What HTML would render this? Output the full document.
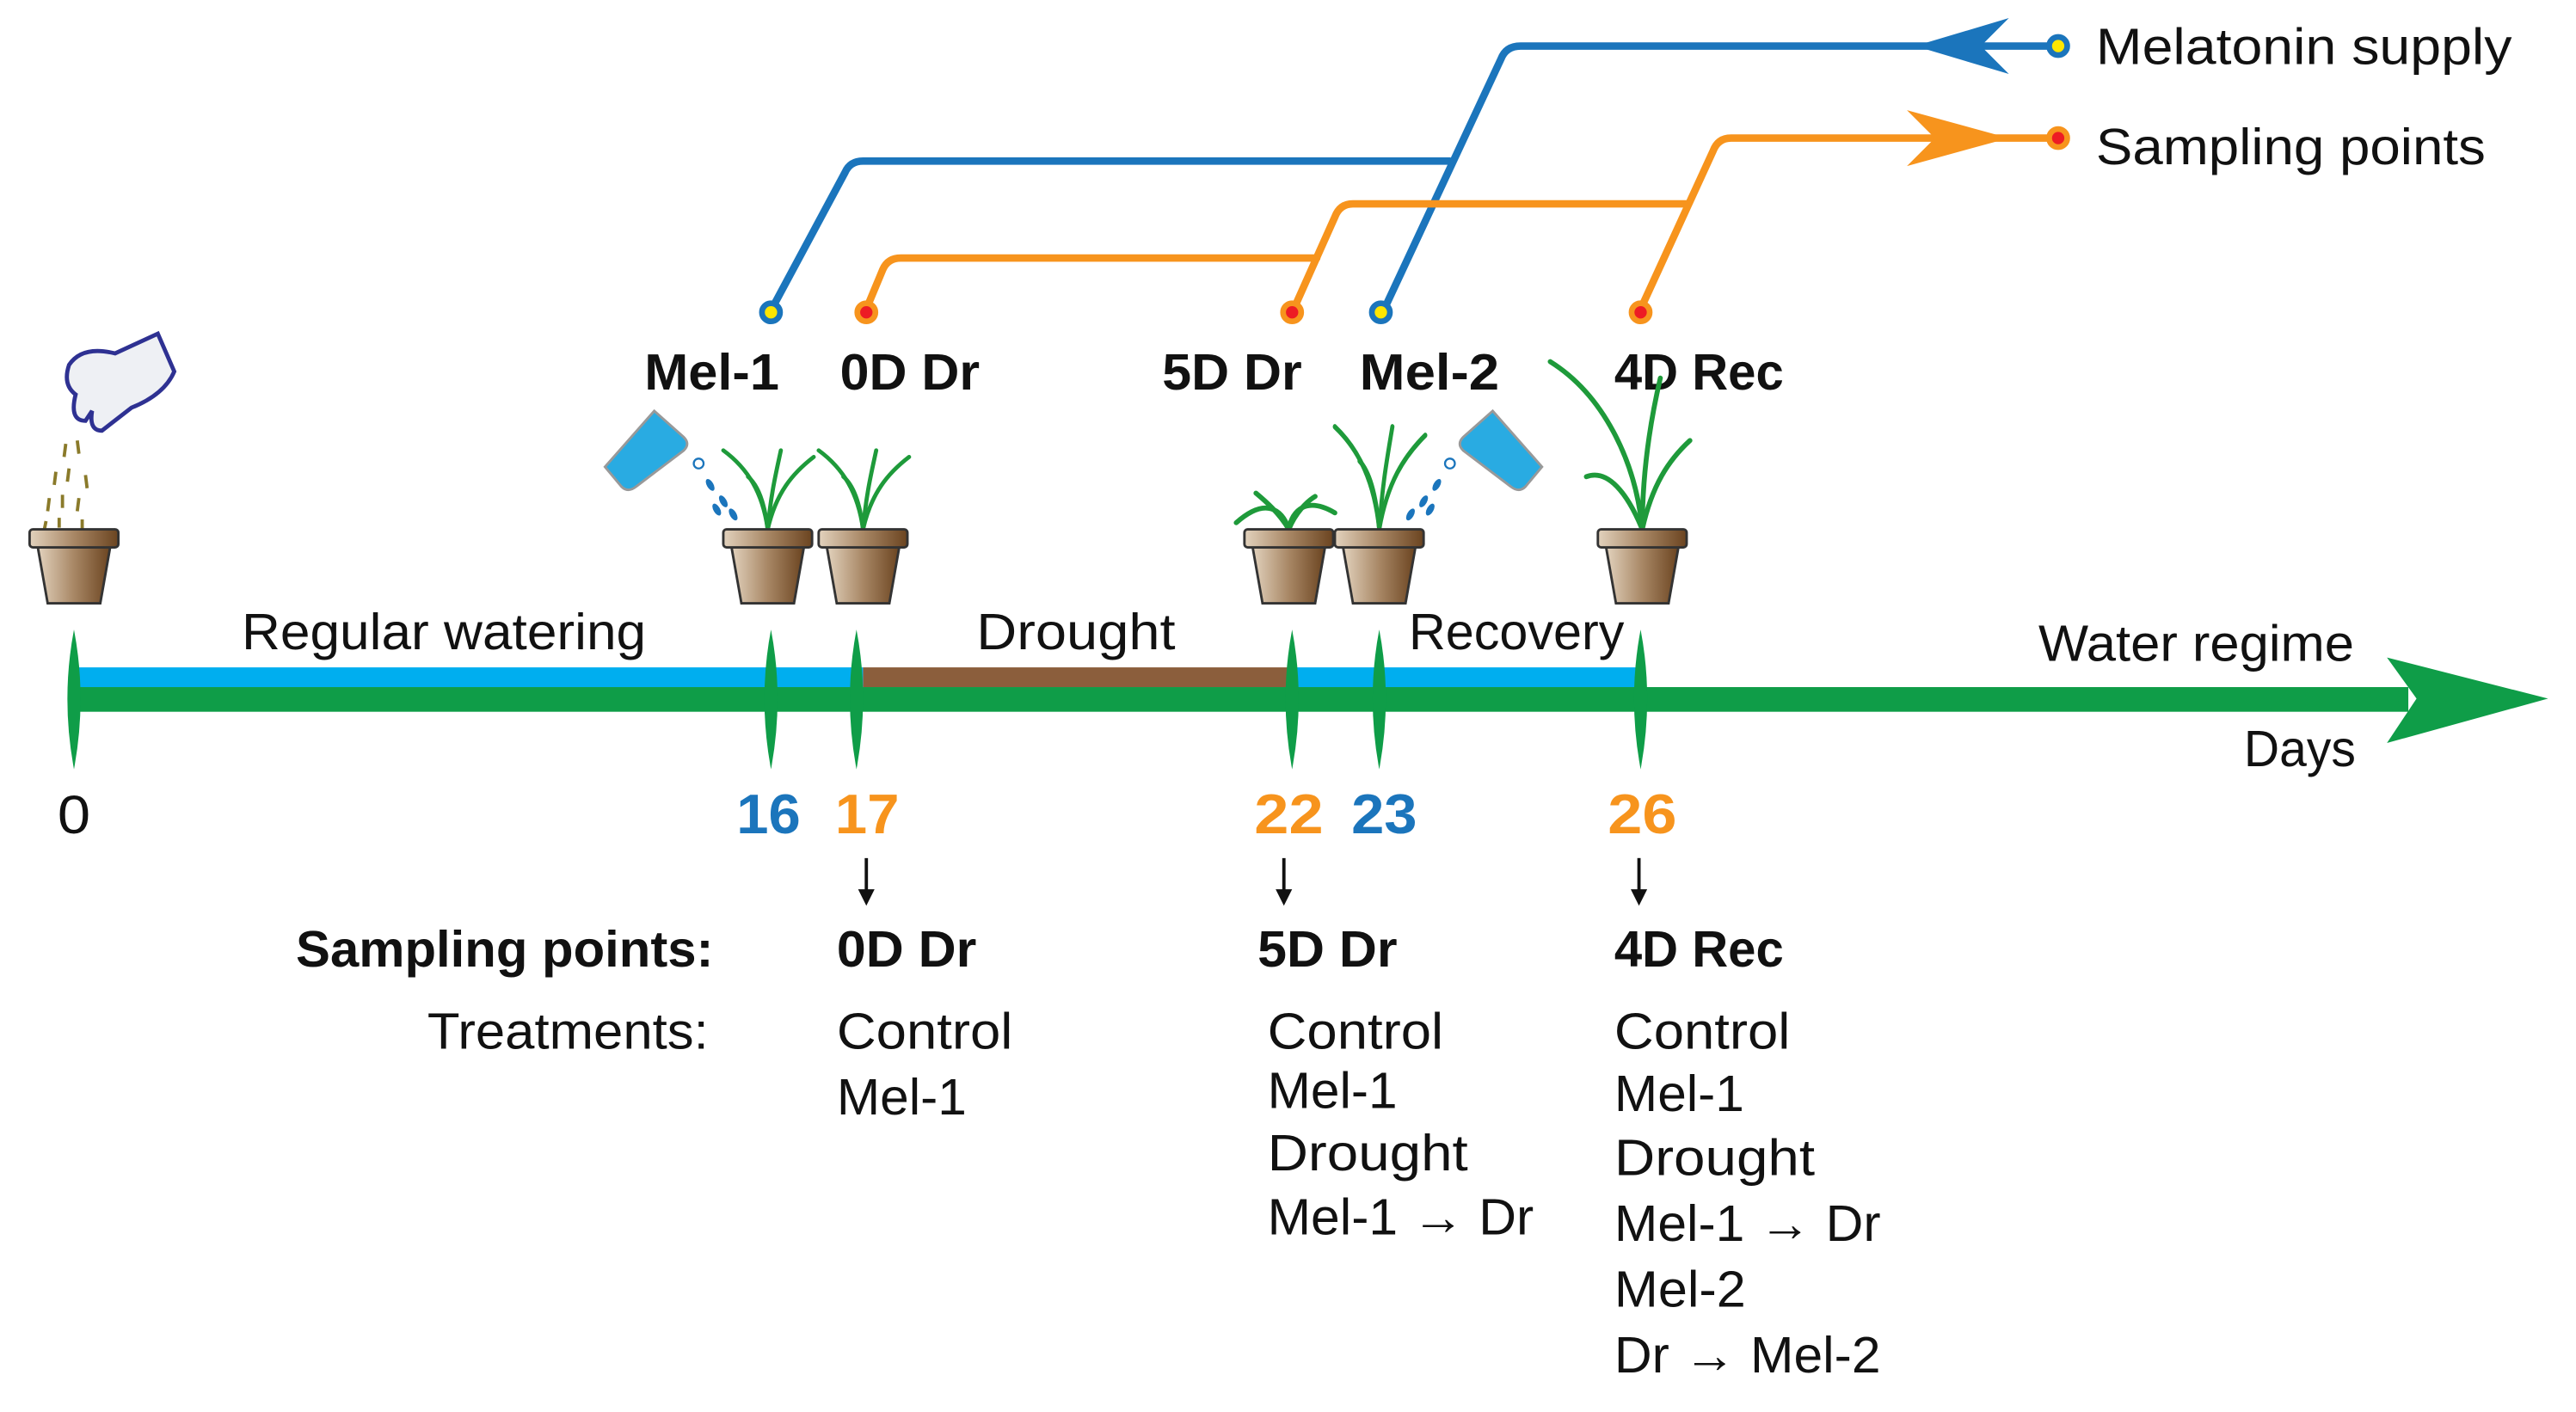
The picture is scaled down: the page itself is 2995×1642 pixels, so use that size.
<!DOCTYPE html>
<html><head><meta charset="utf-8"><style>
html,body{margin:0;padding:0;background:#fff;}
svg{display:block;}
text{font-family:"Liberation Sans",sans-serif;fill:#111;}
</style></head><body>
<svg width="2995" height="1642" viewBox="0 0 1567 859" preserveAspectRatio="none" xmlns="http://www.w3.org/2000/svg">
<defs>
<linearGradient id="pot" x1="0" x2="1" y1="0" y2="0">
<stop offset="0" stop-color="#e2d2bd"/><stop offset="0.5" stop-color="#a88765"/><stop offset="1" stop-color="#6b4420"/>
</linearGradient>
<g id="p">
<path d="M-22,333 L22,333 L16,367 L-16,367 Z" fill="url(#pot)" stroke="#333" stroke-width="1.5"/>
<rect x="-27" y="322" width="54" height="11" rx="2" fill="url(#pot)" stroke="#333" stroke-width="1.5"/>
</g>
<g id="pl" fill="none" stroke="#1e9a3a" stroke-width="2.5" stroke-linecap="round">
<path d="M0,322 C-3,300 -12,285 -27,274"/>
<path d="M0,322 C2,300 5,288 8,274"/>
<path d="M0,322 C5,300 15,288 28,278"/>
<path d="M0,322 C-2,305 -6,295 -12,290"/>
</g>
<g id="bk">
<path d="M-4,-24 L26,10 L16,22 Q12,26 7,22 L-22,0 Q-26,-4 -22,-8 Z" fill="#29abe2" stroke="#999" stroke-width="1.5"/>
</g>
</defs>

<g fill="none" stroke-width="4.5" stroke-linecap="round" stroke-linejoin="round">
<path d="M1252,28 L925,28 Q916,28 913,36 L843,186" stroke="#1b75bc"/>
<path d="M882,98 L525,98 Q517,98 514,105 L470,187" stroke="#1b75bc"/>
<path d="M1252,84 L1053,84 Q1045,84 1042,92 L998,188" stroke="#f7941d"/>
<path d="M1027,124 L823,124 Q815,124 812,132 L787,188" stroke="#f7941d"/>
<path d="M801,157 L548,157 Q540,157 537,164 L527,188" stroke="#f7941d"/>
</g>
<path d="M1165,28 L1222,11 L1205,28 L1222,45 Z" fill="#1b75bc"/>
<path d="M1222,84 L1160,67 L1177,84 L1160,101 Z" fill="#f7941d"/>
<g stroke-width="3.5">
<circle cx="1252" cy="28" r="5.5" fill="#ffe600" stroke="#1b75bc"/>
<circle cx="469" cy="190" r="5.5" fill="#ffe600" stroke="#1b75bc"/>
<circle cx="840" cy="190" r="5.5" fill="#ffe600" stroke="#1b75bc"/>
<circle cx="1252" cy="84" r="5.5" fill="#ed1c24" stroke="#f7941d"/>
<circle cx="527" cy="190" r="5.5" fill="#ed1c24" stroke="#f7941d"/>
<circle cx="786" cy="190" r="5.5" fill="#ed1c24" stroke="#f7941d"/>
<circle cx="998" cy="190" r="5.5" fill="#ed1c24" stroke="#f7941d"/>
</g>

<text x="1275" y="39" font-size="31" textLength="253" lengthAdjust="spacingAndGlyphs">Melatonin supply</text>
<text x="1275" y="100" font-size="31" textLength="237" lengthAdjust="spacingAndGlyphs">Sampling points</text>

<g font-size="31" font-weight="bold">
<text x="392" y="237" textLength="82" lengthAdjust="spacingAndGlyphs">Mel-1</text>
<text x="511" y="237" textLength="85" lengthAdjust="spacingAndGlyphs">0D Dr</text>
<text x="707" y="237" textLength="85" lengthAdjust="spacingAndGlyphs">5D Dr</text>
<text x="827" y="237" textLength="85" lengthAdjust="spacingAndGlyphs">Mel-2</text>
<text x="982" y="237" textLength="103" lengthAdjust="spacingAndGlyphs">4D Rec</text>
</g>

<path d="M42,222 Q50,210 70,215 L96,203 L106,226 Q100,240 80,248 L62,262 Q54,262 56,250 L52,256 Q42,256 46,240 Q38,234 42,222 Z" fill="#eef0f4" stroke="#2e3192" stroke-width="2.5"/>
<g stroke="#8a7a2a" stroke-width="2">
<line x1="40" y1="270" x2="39" y2="278"/><line x1="47" y1="268" x2="48" y2="276"/>
<line x1="34" y1="287" x2="33" y2="295"/><line x1="42" y1="285" x2="41" y2="293"/><line x1="52" y1="289" x2="53" y2="297"/>
<line x1="30" y1="303" x2="29" y2="311"/><line x1="38" y1="301" x2="38" y2="309"/><line x1="48" y1="303" x2="47" y2="311"/>
<line x1="28" y1="317" x2="27" y2="322"/><line x1="36" y1="315" x2="36" y2="321"/><line x1="50" y1="316" x2="50" y2="322"/>
</g>

<use href="#pl" x="467"/><use href="#pl" x="525"/>
<use href="#pl" transform="translate(839,-96.6) scale(1,1.3)"/>
<g fill="none" stroke="#1e9a3a" stroke-width="3" stroke-linecap="round">
<path d="M784,322 C780,310 770,302 752,318"/><path d="M784,322 C786,310 795,302 812,312"/>
<path d="M784,322 C778,312 770,305 764,300"/><path d="M784,322 C788,312 795,305 800,302"/>
<path d="M999,322 C995,280 975,240 943,220"/><path d="M999,322 C999,290 1003,260 1010,230"/>
<path d="M999,322 C1005,295 1015,280 1028,268"/><path d="M999,322 C990,300 978,285 965,290"/>
</g>
<use href="#bk" transform="translate(394,274) scale(-1,1)"/>
<use href="#bk" transform="translate(912,274)"/>
<g fill="#1b75bc">
<circle cx="425" cy="282" r="3" fill="none" stroke="#1b75bc" stroke-width="1.2"/>
<ellipse cx="432" cy="295" rx="2" ry="4" transform="rotate(-30 432 295)"/><ellipse cx="440" cy="305" rx="2" ry="4" transform="rotate(-30 440 305)"/>
<ellipse cx="446" cy="313" rx="2" ry="4" transform="rotate(-30 446 313)"/><ellipse cx="436" cy="310" rx="2" ry="4" transform="rotate(-30 436 310)"/>
<circle cx="882" cy="282" r="3" fill="none" stroke="#1b75bc" stroke-width="1.2"/>
<ellipse cx="874" cy="295" rx="2" ry="4" transform="rotate(30 874 295)"/><ellipse cx="866" cy="305" rx="2" ry="4" transform="rotate(30 866 305)"/>
<ellipse cx="858" cy="313" rx="2" ry="4" transform="rotate(30 858 313)"/><ellipse cx="870" cy="310" rx="2" ry="4" transform="rotate(30 870 310)"/>
</g>
<use href="#p" x="45"/><use href="#p" x="467"/><use href="#p" x="525"/>
<use href="#p" x="784"/><use href="#p" x="839"/><use href="#p" x="999"/>

<rect x="45" y="406" width="480" height="12" fill="#00aeef"/>
<rect x="525" y="406" width="259" height="12" fill="#8b5e3c"/>
<rect x="784" y="406" width="214" height="12" fill="#00aeef"/>
<rect x="45" y="418" width="1420" height="15" fill="#0f9d48"/>
<path d="M1550,425 L1452,400 L1470,425 L1452,452 Z" fill="#0f9d48"/>
<g fill="#0f9d48">
<path d="M45,383 Q53,425 45,468 Q37,425 45,383Z"/>
<path d="M469,383 Q477,425 469,468 Q461,425 469,383Z"/>
<path d="M521,383 Q529,425 521,468 Q513,425 521,383Z"/>
<path d="M786,383 Q794,425 786,468 Q778,425 786,383Z"/>
<path d="M839,383 Q847,425 839,468 Q831,425 839,383Z"/>
<path d="M998,383 Q1006,425 998,468 Q990,425 998,383Z"/>
</g>
<text x="147" y="395" font-size="31" textLength="246" lengthAdjust="spacingAndGlyphs">Regular watering</text>
<text x="594" y="395" font-size="31" textLength="121" lengthAdjust="spacingAndGlyphs">Drought</text>
<text x="857" y="395" font-size="31" textLength="131" lengthAdjust="spacingAndGlyphs">Recovery</text>
<text x="1240" y="402" font-size="31" textLength="192" lengthAdjust="spacingAndGlyphs">Water regime</text>
<text x="1365" y="466" font-size="31" textLength="68" lengthAdjust="spacingAndGlyphs">Days</text>

<text x="35" y="507" font-size="33" textLength="20" lengthAdjust="spacingAndGlyphs">0</text>
<g font-size="34" font-weight="bold">
<text x="448" y="507" textLength="39" lengthAdjust="spacingAndGlyphs" style="fill:#1b75bc">16</text>
<text x="508" y="507" textLength="39" lengthAdjust="spacingAndGlyphs" style="fill:#f7941d">17</text>
<text x="763" y="507" textLength="42" lengthAdjust="spacingAndGlyphs" style="fill:#f7941d">22</text>
<text x="822" y="507" textLength="40" lengthAdjust="spacingAndGlyphs" style="fill:#1b75bc">23</text>
<text x="978" y="507" textLength="42" lengthAdjust="spacingAndGlyphs" style="fill:#f7941d">26</text>
</g>
<g stroke="#111" stroke-width="2"><line x1="527" y1="522" x2="527" y2="545"/><line x1="781" y1="522" x2="781" y2="545"/><line x1="997" y1="522" x2="997" y2="545"/></g>
<g fill="#111"><path d="M522,541 L532,541 L527,551Z"/><path d="M776,541 L786,541 L781,551Z"/><path d="M992,541 L1002,541 L997,551Z"/></g>

<g font-size="31" font-weight="bold">
<text x="180" y="588" textLength="254" lengthAdjust="spacingAndGlyphs">Sampling points:</text>
<text x="509" y="588" textLength="85" lengthAdjust="spacingAndGlyphs">0D Dr</text>
<text x="765" y="588" textLength="85" lengthAdjust="spacingAndGlyphs">5D Dr</text>
<text x="982" y="588" textLength="103" lengthAdjust="spacingAndGlyphs">4D Rec</text>
</g>
<g font-size="31">
<text x="260" y="638" textLength="171" lengthAdjust="spacingAndGlyphs">Treatments:</text>
<text x="509" y="638" textLength="107" lengthAdjust="spacingAndGlyphs">Control</text>
<text x="509" y="678" textLength="79" lengthAdjust="spacingAndGlyphs">Mel-1</text>
<text x="771" y="638" textLength="107" lengthAdjust="spacingAndGlyphs">Control</text>
<text x="771" y="674" textLength="79" lengthAdjust="spacingAndGlyphs">Mel-1</text>
<text x="771" y="712" textLength="122" lengthAdjust="spacingAndGlyphs">Drought</text>
<text x="771" y="751" textLength="162" lengthAdjust="spacingAndGlyphs">Mel-1 → Dr</text>
<text x="982" y="638" textLength="107" lengthAdjust="spacingAndGlyphs">Control</text>
<text x="982" y="676" textLength="79" lengthAdjust="spacingAndGlyphs">Mel-1</text>
<text x="982" y="715" textLength="122" lengthAdjust="spacingAndGlyphs">Drought</text>
<text x="982" y="755" textLength="162" lengthAdjust="spacingAndGlyphs">Mel-1 → Dr</text>
<text x="982" y="795" textLength="80" lengthAdjust="spacingAndGlyphs">Mel-2</text>
<text x="982" y="835" textLength="162" lengthAdjust="spacingAndGlyphs">Dr → Mel-2</text>
</g>
</svg>
</body></html>
